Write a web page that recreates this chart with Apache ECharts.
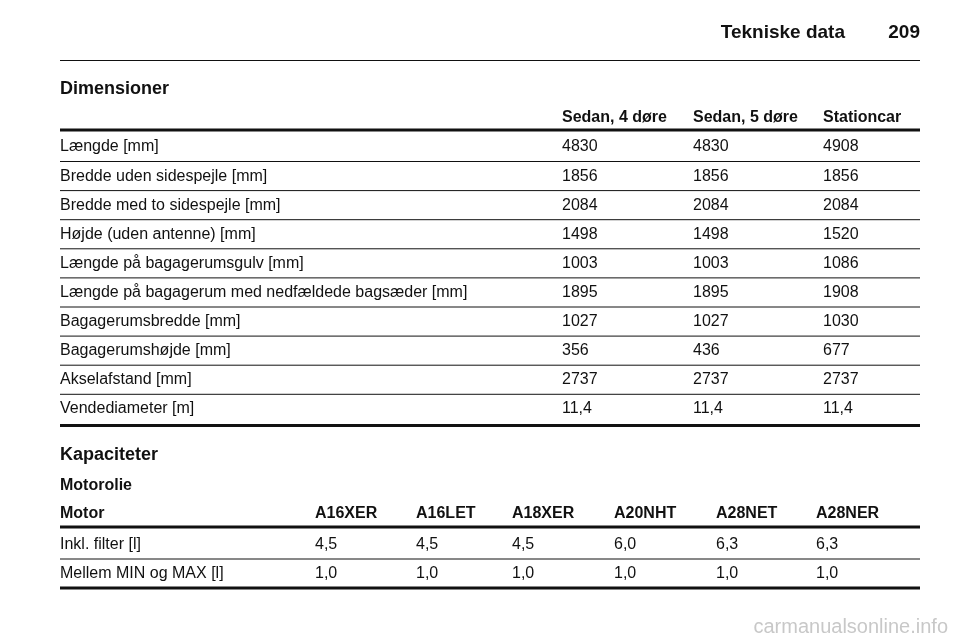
<!DOCTYPE html>
<html><head><meta charset="utf-8">
<script src="https://cdn.jsdelivr.net/npm/echarts@6/dist/echarts.min.js"></script>
<style>html,body{margin:0;padding:0;background:#fff}#c{width:960px;height:642px}</style>
</head><body><div id="c"></div>
<script>
const dimHeaders = ["Sedan, 4 døre", "Sedan, 5 døre", "Stationcar"];
const dimLabels = ["Længde [mm]", "Bredde uden sidespejle [mm]", "Bredde med to sidespejle [mm]", "Højde (uden antenne) [mm]", "Længde på bagagerumsgulv [mm]", "Længde på bagagerum med nedfældede bagsæder [mm]", "Bagagerumsbredde [mm]", "Bagagerumshøjde [mm]", "Akselafstand [mm]", "Vendediameter [m]"];
const dimSedan4 = ["4830", "1856", "2084", "1498", "1003", "1895", "1027", "356", "2737", "11,4"];
const dimSedan5 = ["4830", "1856", "2084", "1498", "1003", "1895", "1027", "436", "2737", "11,4"];
const dimStation = ["4908", "1856", "2084", "1520", "1086", "1908", "1030", "677", "2737", "11,4"];
const motorHeaders = ["Motor", "A16XER", "A16LET", "A18XER", "A20NHT", "A28NET", "A28NER"];
const oilRows = [
  ["Inkl. filter [l]", "4,5", "4,5", "4,5", "6,0", "6,3", "6,3"],
  ["Mellem MIN og MAX [l]", "1,0", "1,0", "1,0", "1,0", "1,0", "1,0"]
];

const F = "'Liberation Sans', Arial, sans-serif";
const g = [];
function txt(x, y, s, size, bold, color, align) {
  g.push({type:'text', x, y, style:{text:s, font:(bold?'bold ':'')+size+'px '+F, fill:color||'#111', textAlign:align||'left', textVerticalAlign:'middle'}});
}
function line(y, w) {
  g.push({type:'line', shape:{x1:60,y1:y,x2:920,y2:y}, style:{stroke:'#111', lineWidth:w}});
}
txt(845, 33, "Tekniske data", 19, true, '#111', 'right');
txt(920, 33, "209", 19, true, '#111', 'right');
line(60.5, 1);
txt(60, 89, "Dimensioner", 18, true);
const dx = [562, 693, 823];
dimHeaders.forEach((h, i) => txt(dx[i], 118, h, 16, true));
line(130, 3);
const rowH = 29.1, y0 = 147;
dimLabels.forEach((l, i) => {
  const y = y0 + i * rowH;
  txt(60, y, l, 16, false);
  [dimSedan4, dimSedan5, dimStation].forEach((arr, j) => txt(dx[j], y, arr[i], 16, false));
  if (i < dimLabels.length - 1) line(y + 14.5, 1);
});
line(425.5, 3);
txt(60, 455, "Kapaciteter", 18, true);
txt(60, 486, "Motorolie", 16, true);
const mx = [60, 315, 416, 512, 614, 716, 816];
motorHeaders.forEach((h, i) => txt(mx[i], 514, h, 16, true));
line(527, 3);
oilRows.forEach((r, i) => {
  const y = 545 + i * 29;
  r.forEach((v, j) => txt(mx[j], y, v, 16, false));
  if (i < oilRows.length - 1) line(y + 14, 1);
});
line(588, 3);
txt(948, 627, "carmanualsonline.info", 20, false, '#c8c8c8', 'right');

const chart = echarts.init(document.getElementById('c'));
chart.setOption({backgroundColor:'#fff', graphic:g});
</script></body></html>
